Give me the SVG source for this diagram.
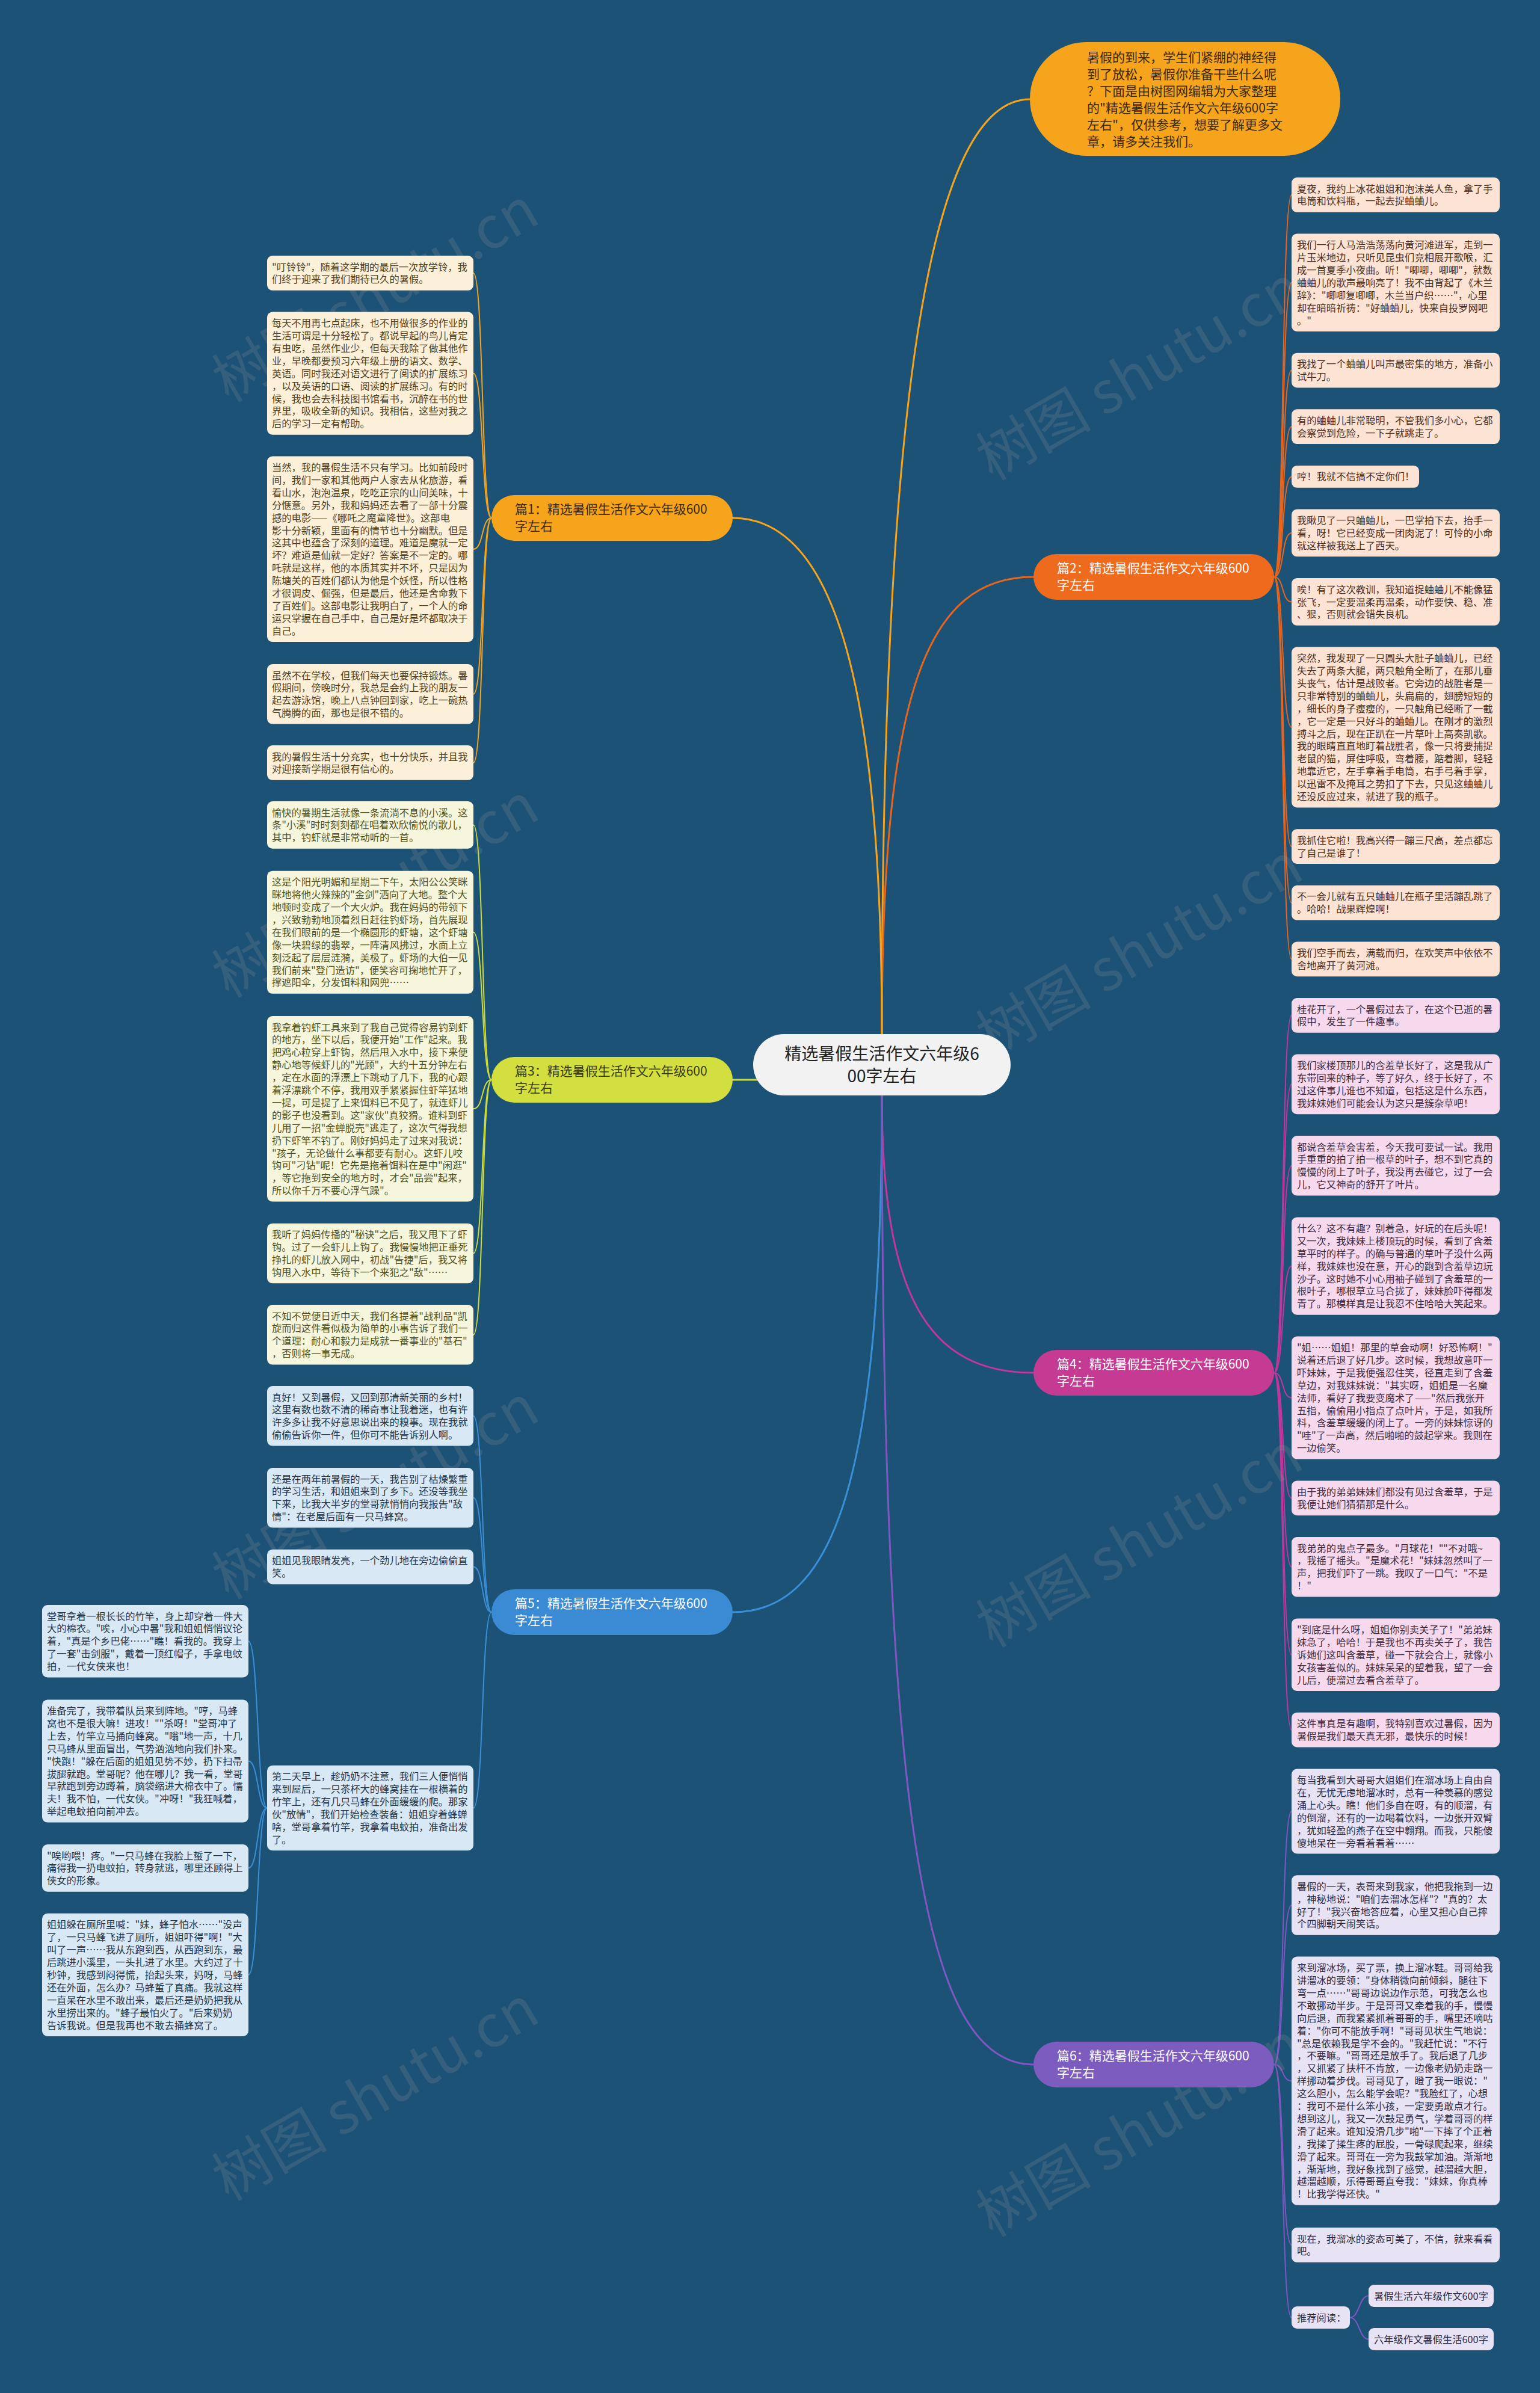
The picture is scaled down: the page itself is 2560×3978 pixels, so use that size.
<svg xmlns="http://www.w3.org/2000/svg" width="2560" height="3978" viewBox="0 0 2560 3978">
<defs>
<style>
text{font-family:"Noto Sans CJK SC","Noto Sans",sans-serif;}
.lt{font-size:16.3px;}
.pt{font-size:21px;}
.c{fill:none;stroke-linecap:round;}
.m{stroke-width:3;}
.l{stroke-width:2;}
.k1{stroke:#f6a41c}.k2{stroke:#e8651e}.k3{stroke:#cddc39}.k4{stroke:#c2379a}.k5{stroke:#3b8fd8}.k6{stroke:#7e57c2}
.f1{fill:#fdf0d9}.f2{fill:#fde3d3}.f3{fill:#f6f6dd}.f4{fill:#f6d9ec}.f5{fill:#d9e8f5}.f6{fill:#e7e3f4}
.x1{fill:#4f3f1c}.x2{fill:#4a2e1e}.x3{fill:#4f521c}.x4{fill:#3d2a3d}.x5{fill:#253545}.x6{fill:#2e2a42}
.wm{font-size:96px;fill:#9a9a9a;opacity:.2;}
</style>
</defs>
<rect width="2560" height="3978" fill="#1b5276"/>

<g id="connectors">
<path class="c m k1" d="M1466,1719 C1466,700 1540,165 1712,165"/>
<path class="c m k2" d="M1466,1719 C1466,1150 1540,959 1718,959"/>
<path class="c m k1" d="M1466,1719 C1466,1150 1390,861 1218,861"/>
<path class="c m k3" d="M1218,1795 L1259,1795"/>
<path class="c m k4" d="M1466,1821 C1466,2150 1540,2282 1718,2282"/>
<path class="c m k5" d="M1466,1821 C1466,2450 1390,2680 1218,2680"/>
<path class="c m k6" d="M1466,1821 C1466,3050 1540,3432 1718,3432"/>
<path class="c l k1" d="M817,861 C800,861 804,453.9 787,453.9"/>
<path class="c l k1" d="M817,861 C800,861 804,620.7 787,620.7"/>
<path class="c l k1" d="M817,861 C800,861 804,912.8 787,912.8"/>
<path class="c l k1" d="M817,861 C800,861 804,1153.8 787,1153.8"/>
<path class="c l k1" d="M817,861 C800,861 804,1267.9 787,1267.9"/>
<path class="c l k3" d="M817,1795 C800,1795 804,1371.4 787,1371.4"/>
<path class="c l k3" d="M817,1795 C800,1795 804,1549.8 787,1549.8"/>
<path class="c l k3" d="M817,1795 C800,1795 804,1843.3 787,1843.3"/>
<path class="c l k3" d="M817,1795 C800,1795 804,2083.5 787,2083.5"/>
<path class="c l k3" d="M817,1795 C800,1795 804,2218.8 787,2218.8"/>
<path class="c l k5" d="M817,2680 C800,2680 804,2353.8 787,2353.8"/>
<path class="c l k5" d="M817,2680 C800,2680 804,2489.8 787,2489.8"/>
<path class="c l k5" d="M817,2680 C800,2680 804,2604.6 787,2604.6"/>
<path class="c l k5" d="M817,2680 C800,2680 804,3005.5 787,3005.5"/>
<path class="c l k5" d="M444,3005.5 C427,3005.5 430,2728.3 413,2728.3"/>
<path class="c l k5" d="M444,3005.5 C427,3005.5 430,2927.6 413,2927.6"/>
<path class="c l k5" d="M444,3005.5 C427,3005.5 430,3105.4 413,3105.4"/>
<path class="c l k5" d="M444,3005.5 C427,3005.5 430,3282.9 413,3282.9"/>
<path class="c l k2" d="M2118,959 C2135,959 2130,323.9 2147,323.9"/>
<path class="c l k2" d="M2118,959 C2135,959 2130,469.8 2147,469.8"/>
<path class="c l k2" d="M2118,959 C2135,959 2130,615.6 2147,615.6"/>
<path class="c l k2" d="M2118,959 C2135,959 2130,709.2 2147,709.2"/>
<path class="c l k2" d="M2118,959 C2135,959 2130,792.4 2147,792.4"/>
<path class="c l k2" d="M2118,959 C2135,959 2130,886 2147,886"/>
<path class="c l k2" d="M2118,959 C2135,959 2130,1000.5 2147,1000.5"/>
<path class="c l k2" d="M2118,959 C2135,959 2130,1209 2147,1209"/>
<path class="c l k2" d="M2118,959 C2135,959 2130,1407.1 2147,1407.1"/>
<path class="c l k2" d="M2118,959 C2135,959 2130,1500.7 2147,1500.7"/>
<path class="c l k2" d="M2118,959 C2135,959 2130,1594.3 2147,1594.3"/>
<path class="c l k4" d="M2118,2282 C2135,2282 2130,1687.9 2147,1687.9"/>
<path class="c l k4" d="M2118,2282 C2135,2282 2130,1802.4 2147,1802.4"/>
<path class="c l k4" d="M2118,2282 C2135,2282 2130,1937.8 2147,1937.8"/>
<path class="c l k4" d="M2118,2282 C2135,2282 2130,2104.6 2147,2104.6"/>
<path class="c l k4" d="M2118,2282 C2135,2282 2130,2323.6 2147,2323.6"/>
<path class="c l k4" d="M2118,2282 C2135,2282 2130,2490.3 2147,2490.3"/>
<path class="c l k4" d="M2118,2282 C2135,2282 2130,2604.8 2147,2604.8"/>
<path class="c l k4" d="M2118,2282 C2135,2282 2130,2750.7 2147,2750.7"/>
<path class="c l k4" d="M2118,2282 C2135,2282 2130,2875.6 2147,2875.6"/>
<path class="c l k6" d="M2118,3432 C2135,3432 2130,3011 2147,3011"/>
<path class="c l k6" d="M2118,3432 C2135,3432 2130,3167 2147,3167"/>
<path class="c l k6" d="M2118,3432 C2135,3432 2130,3459.2 2147,3459.2"/>
<path class="c l k6" d="M2118,3432 C2135,3432 2130,3731.9 2147,3731.9"/>
<path class="c l k6" d="M2118,3432 C2135,3432 2130,3852.5 2147,3852.5"/>
<path class="c l k6" d="M2244,3852.5 C2260,3852.5 2259,3816.5 2275,3816.5"/>
<path class="c l k6" d="M2244,3852.5 C2260,3852.5 2259,3888.5 2275,3888.5"/>
</g>

<g id="watermarks">
<text class="wm" x="380" y="670" transform="rotate(-30 380 670)">树图 shutu.cn</text>
<text class="wm" x="380" y="1660" transform="rotate(-30 380 1660)">树图 shutu.cn</text>
<text class="wm" x="380" y="2660" transform="rotate(-30 380 2660)">树图 shutu.cn</text>
<text class="wm" x="380" y="3660" transform="rotate(-30 380 3660)">树图 shutu.cn</text>
<text class="wm" x="1650" y="800" transform="rotate(-30 1650 800)">树图 shutu.cn</text>
<text class="wm" x="1650" y="1760" transform="rotate(-30 1650 1760)">树图 shutu.cn</text>
<text class="wm" x="1650" y="2740" transform="rotate(-30 1650 2740)">树图 shutu.cn</text>
<text class="wm" x="1650" y="3720" transform="rotate(-30 1650 3720)">树图 shutu.cn</text>
</g>

<g id="root">
<rect x="1252" y="1719" width="428" height="102" rx="51" fill="#f2f2f2"/>
<text x="1466" y="1762" font-size="28" fill="#222" text-anchor="middle">精选暑假生活作文六年级6</text>
<text x="1466" y="1799" font-size="28" fill="#222" text-anchor="middle">00字左右</text>
</g>

<g id="intro">
<rect x="1712" y="70" width="516" height="189" rx="94" fill="#f6a41c"/>
<text font-size="21" fill="#3a2a10">
<tspan x="1807" y="103">暑假的到来，学生们紧绷的神经得</tspan>
<tspan x="1807" y="131">到了放松，暑假你准备干些什么呢</tspan>
<tspan x="1807" y="159">？下面是由树图网编辑为大家整理</tspan>
<tspan x="1807" y="187">的"精选暑假生活作文六年级600字</tspan>
<tspan x="1807" y="215">左右"，仅供参考，想要了解更多文</tspan>
<tspan x="1807" y="243">章，请多关注我们。</tspan>
</text>
</g>

<g id="p1">
<rect x="817" y="823" width="401" height="76" rx="38" fill="#f6a41c"/>
<text class="pt" fill="#3a2a10"><tspan x="856" y="854">篇1：精选暑假生活作文六年级600</tspan><tspan x="856" y="882">字左右</tspan></text>
</g>
<g id="p2">
<rect x="1718" y="921" width="400" height="76" rx="38" fill="#ee6a1c"/>
<text class="pt" fill="#fff"><tspan x="1757" y="952">篇2：精选暑假生活作文六年级600</tspan><tspan x="1757" y="980">字左右</tspan></text>
</g>
<g id="p3">
<rect x="817" y="1757" width="401" height="76" rx="38" fill="#d2df3f"/>
<text class="pt" fill="#3a3a10"><tspan x="856" y="1788">篇3：精选暑假生活作文六年级600</tspan><tspan x="856" y="1816">字左右</tspan></text>
</g>
<g id="p4">
<rect x="1718" y="2244" width="400" height="76" rx="38" fill="#c53b93"/>
<text class="pt" fill="#fff"><tspan x="1757" y="2275">篇4：精选暑假生活作文六年级600</tspan><tspan x="1757" y="2303">字左右</tspan></text>
</g>
<g id="p5">
<rect x="817" y="2642" width="401" height="76" rx="38" fill="#3a8bd4"/>
<text class="pt" fill="#fff"><tspan x="856" y="2673">篇5：精选暑假生活作文六年级600</tspan><tspan x="856" y="2701">字左右</tspan></text>
</g>
<g id="p6">
<rect x="1718" y="3394" width="400" height="76" rx="38" fill="#7d5cbf"/>
<text class="pt" fill="#fff"><tspan x="1757" y="3425">篇6：精选暑假生活作文六年级600</tspan><tspan x="1757" y="3453">字左右</tspan></text>
</g>

<g id="n1a"><rect class="f1" x="444" y="425" width="343" height="57.8" rx="9"/>
<text class="lt x1"><tspan x="452" y="449.5">"叮铃铃"，随着这学期的最后一次放学铃，我</tspan><tspan x="452" y="470.4">们终于迎来了我们期待已久的暑假。</tspan></text></g>
<g id="n1b"><rect class="f1" x="444" y="518.6" width="343" height="204.1" rx="9"/>
<text class="lt x1"><tspan x="452" y="543.1">每天不用再七点起床，也不用做很多的作业的</tspan><tspan x="452" y="564">生活可谓是十分轻松了。都说早起的鸟儿肯定</tspan><tspan x="452" y="584.9">有虫吃，虽然作业少，但每天我除了做其他作</tspan><tspan x="452" y="605.8">业，早晚都要预习六年级上册的语文、数学、</tspan><tspan x="452" y="626.7">英语。同时我还对语文进行了阅读的扩展练习</tspan><tspan x="452" y="647.6">，以及英语的口语、阅读的扩展练习。有的时</tspan><tspan x="452" y="668.5">候，我也会去科技图书馆看书，沉醉在书的世</tspan><tspan x="452" y="689.4">界里，吸收全新的知识。我相信，这些对我之</tspan><tspan x="452" y="710.3">后的学习一定有帮助。</tspan></text></g>
<g id="n1c"><rect class="f1" x="444" y="758.5" width="343" height="308.6" rx="9"/>
<text class="lt x1"><tspan x="452" y="783">当然，我的暑假生活不只有学习。比如前段时</tspan><tspan x="452" y="803.9">间，我们一家和其他两户人家去从化旅游，看</tspan><tspan x="452" y="824.8">看山水，泡泡温泉，吃吃正宗的山间美味，十</tspan><tspan x="452" y="845.7">分惬意。另外，我和妈妈还去看了一部十分震</tspan><tspan x="452" y="866.6">撼的电影——《哪吒之魔童降世》。这部电</tspan><tspan x="452" y="887.5">影十分新颖，里面有的情节也十分幽默。但是</tspan><tspan x="452" y="908.4">这其中也蕴含了深刻的道理。难道是魔就一定</tspan><tspan x="452" y="929.3">坏？难道是仙就一定好？答案是不一定的。哪</tspan><tspan x="452" y="950.2">吒就是这样，他的本质其实并不坏，只是因为</tspan><tspan x="452" y="971.1">陈塘关的百姓们都认为他是个妖怪，所以性格</tspan><tspan x="452" y="992">才很调皮、倔强，但是最后，他还是舍命救下</tspan><tspan x="452" y="1012.9">了百姓们。这部电影让我明白了，一个人的命</tspan><tspan x="452" y="1033.8">运只掌握在自己手中，自己是好是坏都取决于</tspan><tspan x="452" y="1054.7">自己。</tspan></text></g>
<g id="n1d"><rect class="f1" x="444" y="1104" width="343" height="99.6" rx="9"/>
<text class="lt x1"><tspan x="452" y="1128.5">虽然不在学校，但我们每天也要保持锻炼。暑</tspan><tspan x="452" y="1149.4">假期间，傍晚时分，我总是会约上我的朋友一</tspan><tspan x="452" y="1170.3">起去游泳馆，晚上八点钟回到家，吃上一碗热</tspan><tspan x="452" y="1191.2">气腾腾的面，那也是很不错的。</tspan></text></g>
<g id="n1e"><rect class="f1" x="444" y="1239" width="343" height="57.8" rx="9"/>
<text class="lt x1"><tspan x="452" y="1263.5">我的暑假生活十分充实，也十分快乐，并且我</tspan><tspan x="452" y="1284.4">对迎接新学期是很有信心的。</tspan></text></g>

<g id="n3a"><rect class="f3" x="444" y="1332" width="343" height="78.7" rx="9"/>
<text class="lt x3"><tspan x="452" y="1356.5">愉快的暑期生活就像一条流淌不息的小溪。这</tspan><tspan x="452" y="1377.4">条"小溪"时时刻刻都在唱着欢欣愉悦的歌儿，</tspan><tspan x="452" y="1398.3">其中，钓虾就是非常动听的一首。</tspan></text></g>
<g id="n3b"><rect class="f3" x="444" y="1447.7" width="343" height="204.1" rx="9"/>
<text class="lt x3"><tspan x="452" y="1472.2">这是个阳光明媚和星期二下午，太阳公公笑眯</tspan><tspan x="452" y="1493.1">眯地将他火辣辣的"金剑"洒向了大地。整个大</tspan><tspan x="452" y="1514">地顿时变成了一个大火炉。我在妈妈的带领下</tspan><tspan x="452" y="1534.9">，兴致勃勃地顶着烈日赶往钓虾场，首先展现</tspan><tspan x="452" y="1555.8">在我们眼前的是一个椭圆形的虾塘，这个虾塘</tspan><tspan x="452" y="1576.7">像一块碧绿的翡翠，一阵清风拂过，水面上立</tspan><tspan x="452" y="1597.6">刻泛起了层层涟漪，美极了。虾场的大伯一见</tspan><tspan x="452" y="1618.5">我们前来"登门造访"，便笑容可掬地忙开了，</tspan><tspan x="452" y="1639.4">撑遮阳伞，分发饵料和网兜……</tspan></text></g>
<g id="n3c"><rect class="f3" x="444" y="1689" width="343" height="308.6" rx="9"/>
<text class="lt x3"><tspan x="452" y="1713.5">我拿着钓虾工具来到了我自己觉得容易钓到虾</tspan><tspan x="452" y="1734.4">的地方，坐下以后，我便开始"工作"起来。我</tspan><tspan x="452" y="1755.3">把鸡心粒穿上虾钩，然后甩入水中，接下来便</tspan><tspan x="452" y="1776.2">静心地等候虾儿的"光顾"，大约十五分钟左右</tspan><tspan x="452" y="1797.1">，定在水面的浮漂上下跳动了几下，我的心跟</tspan><tspan x="452" y="1818">着浮漂跳个不停，我用双手紧紧握住虾竿猛地</tspan><tspan x="452" y="1838.9">一提，可是提了上来饵料已不见了，就连虾儿</tspan><tspan x="452" y="1859.8">的影子也没看到。这"家伙"真狡猾。谁料到虾</tspan><tspan x="452" y="1880.7">儿用了一招"金蝉脱壳"逃走了，这次气得我想</tspan><tspan x="452" y="1901.6">扔下虾竿不钓了。刚好妈妈走了过来对我说：</tspan><tspan x="452" y="1922.5">"孩子，无论做什么事都要有耐心。这虾儿咬</tspan><tspan x="452" y="1943.4">钩可"刁钻"呢！它先是拖着饵料在是中"闲逛"</tspan><tspan x="452" y="1964.3">，等它拖到安全的地方时，才会"品尝"起来，</tspan><tspan x="452" y="1985.2">所以你千万不要心浮气躁"。</tspan></text></g>
<g id="n3d"><rect class="f3" x="444" y="2033.7" width="343" height="99.6" rx="9"/>
<text class="lt x3"><tspan x="452" y="2058.2">我听了妈妈传播的"秘诀"之后，我又甩下了虾</tspan><tspan x="452" y="2079.1">钩。过了一会虾儿上钩了。我慢慢地把正垂死</tspan><tspan x="452" y="2100">挣扎的虾儿放入网中，初战"告捷"后，我又将</tspan><tspan x="452" y="2120.9">钩甩入水中，等待下一个来犯之"敌"……</tspan></text></g>
<g id="n3e"><rect class="f3" x="444" y="2169" width="343" height="99.6" rx="9"/>
<text class="lt x3"><tspan x="452" y="2193.5">不知不觉便日近中天，我们各提着"战利品"凯</tspan><tspan x="452" y="2214.4">旋而归这件看似极为简单的小事告诉了我们一</tspan><tspan x="452" y="2235.3">个道理：耐心和毅力是成就一番事业的"基石"</tspan><tspan x="452" y="2256.2">，否则将一事无成。</tspan></text></g>

<g id="n5a"><rect class="f5" x="444" y="2304" width="343" height="99.6" rx="9"/>
<text class="lt x5"><tspan x="452" y="2328.5">真好！又到暑假，又回到那清新美丽的乡村！</tspan><tspan x="452" y="2349.4">这里有数也数不清的稀奇事让我着迷，也有许</tspan><tspan x="452" y="2370.3">许多多让我不好意思说出来的糗事。现在我就</tspan><tspan x="452" y="2391.2">偷偷告诉你一件，但你可不能告诉别人啊。</tspan></text></g>
<g id="n5b"><rect class="f5" x="444" y="2440" width="343" height="99.6" rx="9"/>
<text class="lt x5"><tspan x="452" y="2464.5">还是在两年前暑假的一天，我告别了枯燥繁重</tspan><tspan x="452" y="2485.4">的学习生活，和姐姐来到了乡下。还没等我坐</tspan><tspan x="452" y="2506.3">下来，比我大半岁的堂哥就悄悄向我报告"敌</tspan><tspan x="452" y="2527.2">情"：在老屋后面有一只马蜂窝。</tspan></text></g>
<g id="n5c"><rect class="f5" x="444" y="2575.7" width="343" height="57.8" rx="9"/>
<text class="lt x5"><tspan x="452" y="2600.2">姐姐见我眼睛发亮，一个劲儿地在旁边偷偷直</tspan><tspan x="452" y="2621.1">笑。</tspan></text></g>
<g id="n5d"><rect class="f5" x="444" y="2934.8" width="343" height="141.4" rx="9"/>
<text class="lt x5"><tspan x="452" y="2959.3">第二天早上，趁奶奶不注意，我们三人便悄悄</tspan><tspan x="452" y="2980.2">来到屋后，一只茶杯大的蜂窝挂在一根横着的</tspan><tspan x="452" y="3001.1">竹竿上，还有几只马蜂在外面缓缓的爬。那家</tspan><tspan x="452" y="3022">伙"放情"，我们开始检查装备：姐姐穿着蜂蝉</tspan><tspan x="452" y="3042.9">啥，堂哥拿着竹竿，我拿着电蚊拍，准备出发</tspan><tspan x="452" y="3063.8">了。</tspan></text></g>
<g id="n5d1"><rect class="f5" x="70" y="2668" width="343" height="120.5" rx="9"/>
<text class="lt x5"><tspan x="78" y="2692.5">堂哥拿着一根长长的竹竿，身上却穿着一件大</tspan><tspan x="78" y="2713.4">大的棉衣。"唉，小心中暑"我和姐姐悄悄议论</tspan><tspan x="78" y="2734.3">着，"真是个乡巴佬……"瞧！看我的。我穿上</tspan><tspan x="78" y="2755.2">了一套"击剑服"，戴着一顶红帽子，手拿电蚊</tspan><tspan x="78" y="2776.1">拍，一代女侠来也！</tspan></text></g>
<g id="n5d2"><rect class="f5" x="70" y="2825.5" width="343" height="204.1" rx="9"/>
<text class="lt x5"><tspan x="78" y="2850">准备完了，我带着队员来到阵地。"哼，马蜂</tspan><tspan x="78" y="2870.9">窝也不是很大嘛！进攻！""杀呀！"堂哥冲了</tspan><tspan x="78" y="2891.8">上去，竹竿立马捅向蜂窝。"嗡"地一声，十几</tspan><tspan x="78" y="2912.7">只马蜂从里面冒出，气势汹汹地向我们扑来。</tspan><tspan x="78" y="2933.6">"快跑！"躲在后面的姐姐见势不妙，扔下扫帚</tspan><tspan x="78" y="2954.5">拔腿就跑。堂哥呢？他在哪儿？我一看，堂哥</tspan><tspan x="78" y="2975.4">早就跑到旁边蹲着，脑袋缩进大棉衣中了。懦</tspan><tspan x="78" y="2996.3">夫！我不怕，一代女侠。"冲呀！"我狂喊着，</tspan><tspan x="78" y="3017.2">举起电蚊拍向前冲去。</tspan></text></g>
<g id="n5d3"><rect class="f5" x="70" y="3066" width="343" height="78.7" rx="9"/>
<text class="lt x5"><tspan x="78" y="3090.5">"唉哟喂！疼。"一只马蜂在我脸上蜇了一下，</tspan><tspan x="78" y="3111.4">痛得我一扔电蚊拍，转身就逃，哪里还顾得上</tspan><tspan x="78" y="3132.3">侠女的形象。</tspan></text></g>
<g id="n5d4"><rect class="f5" x="70" y="3180.8" width="343" height="204.1" rx="9"/>
<text class="lt x5"><tspan x="78" y="3205.3">姐姐躲在厕所里喊："妹，蜂子怕水……"没声</tspan><tspan x="78" y="3226.2">了，一只马蜂飞进了厕所，姐姐吓得"啊！"大</tspan><tspan x="78" y="3247.1">叫了一声……我从东跑到西，从西跑到东，最</tspan><tspan x="78" y="3268">后跳进小溪里，一头扎进了水里。大约过了十</tspan><tspan x="78" y="3288.9">秒钟，我感到闷得慌，抬起头来，妈呀，马蜂</tspan><tspan x="78" y="3309.8">还在外面，怎么办？马蜂蜇了真痛。我就这样</tspan><tspan x="78" y="3330.7">一直呆在水里不敢出来，最后还是奶奶把我从</tspan><tspan x="78" y="3351.6">水里捞出来的。"蜂子最怕火了。"后来奶奶</tspan><tspan x="78" y="3372.5">告诉我说。但是我再也不敢去捅蜂窝了。</tspan></text></g>

<g id="n2a"><rect class="f2" x="2147" y="295" width="346" height="57.8" rx="9"/>
<text class="lt x2"><tspan x="2156" y="319.5">夏夜，我约上冰花姐姐和泡沫美人鱼，拿了手</tspan><tspan x="2156" y="340.4">电筒和饮料瓶，一起去捉蛐蛐儿。</tspan></text></g>
<g id="n2b"><rect class="f2" x="2147" y="388.6" width="346" height="162.3" rx="9"/>
<text class="lt x2"><tspan x="2156" y="413.1">我们一行人马浩浩荡荡向黄河滩进军，走到一</tspan><tspan x="2156" y="434">片玉米地边，只听见昆虫们竞相展开歌喉，汇</tspan><tspan x="2156" y="454.9">成一首夏季小夜曲。听！"唧唧，唧唧"，就数</tspan><tspan x="2156" y="475.8">蛐蛐儿的歌声最响亮了！我不由背起了《木兰</tspan><tspan x="2156" y="496.7">辞》："唧唧复唧唧，木兰当户织……"，心里</tspan><tspan x="2156" y="517.6">却在暗暗祈祷："好蛐蛐儿，快来自投罗网吧</tspan><tspan x="2156" y="538.5">。"</tspan></text></g>
<g id="n2c"><rect class="f2" x="2147" y="586.7" width="346" height="57.8" rx="9"/>
<text class="lt x2"><tspan x="2156" y="611.2">我找了一个蛐蛐儿叫声最密集的地方，准备小</tspan><tspan x="2156" y="632.1">试牛刀。</tspan></text></g>
<g id="n2d"><rect class="f2" x="2147" y="680.3" width="346" height="57.8" rx="9"/>
<text class="lt x2"><tspan x="2156" y="704.8">有的蛐蛐儿非常聪明，不管我们多小心，它都</tspan><tspan x="2156" y="725.7">会察觉到危险，一下子就跳走了。</tspan></text></g>
<g id="n2e"><rect class="f2" x="2147" y="773.9" width="212" height="36.9" rx="9"/>
<text class="lt x2"><tspan x="2156" y="798.4">哼！我就不信搞不定你们！</tspan></text></g>
<g id="n2f"><rect class="f2" x="2147" y="846.6" width="346" height="78.7" rx="9"/>
<text class="lt x2"><tspan x="2156" y="871.1">我瞅见了一只蛐蛐儿，一巴掌拍下去，抬手一</tspan><tspan x="2156" y="892">看，呀！它已经变成一团肉泥了！可怜的小命</tspan><tspan x="2156" y="912.9">就这样被我送上了西天。</tspan></text></g>
<g id="n2g"><rect class="f2" x="2147" y="961.1" width="346" height="78.7" rx="9"/>
<text class="lt x2"><tspan x="2156" y="985.6">唉！有了这次教训，我知道捉蛐蛐儿不能像猛</tspan><tspan x="2156" y="1006.5">张飞，一定要温柔再温柔，动作要快、稳、准</tspan><tspan x="2156" y="1027.4">、狠，否则就会错失良机。</tspan></text></g>
<g id="n2h"><rect class="f2" x="2147" y="1075.6" width="346" height="266.8" rx="9"/>
<text class="lt x2"><tspan x="2156" y="1100.1">突然，我发现了一只圆头大肚子蛐蛐儿，已经</tspan><tspan x="2156" y="1121">失去了两条大腿，两只触角全断了，在那儿垂</tspan><tspan x="2156" y="1141.9">头丧气，估计是战败者。它旁边的战胜者是一</tspan><tspan x="2156" y="1162.8">只非常特别的蛐蛐儿，头扁扁的，翅膀短短的</tspan><tspan x="2156" y="1183.7">，细长的身子瘦瘦的，一只触角已经断了一截</tspan><tspan x="2156" y="1204.6">，它一定是一只好斗的蛐蛐儿。在刚才的激烈</tspan><tspan x="2156" y="1225.5">搏斗之后，现在正趴在一片草叶上高奏凯歌。</tspan><tspan x="2156" y="1246.4">我的眼睛直直地盯着战胜者，像一只将要捕捉</tspan><tspan x="2156" y="1267.3">老鼠的猫，屏住呼吸，弯着腰，踮着脚，轻轻</tspan><tspan x="2156" y="1288.2">地靠近它，左手拿着手电筒，右手弓着手掌，</tspan><tspan x="2156" y="1309.1">以迅雷不及掩耳之势扣了下去，只见这蛐蛐儿</tspan><tspan x="2156" y="1330">还没反应过来，就进了我的瓶子。</tspan></text></g>
<g id="n2i"><rect class="f2" x="2147" y="1378.2" width="346" height="57.8" rx="9"/>
<text class="lt x2"><tspan x="2156" y="1402.7">我抓住它啦！我高兴得一蹦三尺高，差点都忘</tspan><tspan x="2156" y="1423.6">了自己是谁了！</tspan></text></g>
<g id="n2j"><rect class="f2" x="2147" y="1471.8" width="346" height="57.8" rx="9"/>
<text class="lt x2"><tspan x="2156" y="1496.3">不一会儿就有五只蛐蛐儿在瓶子里活蹦乱跳了</tspan><tspan x="2156" y="1517.2">。哈哈！战果辉煌啊！</tspan></text></g>
<g id="n2k"><rect class="f2" x="2147" y="1565.4" width="346" height="57.8" rx="9"/>
<text class="lt x2"><tspan x="2156" y="1589.9">我们空手而去，满载而归，在欢笑声中依依不</tspan><tspan x="2156" y="1610.8">舍地离开了黄河滩。</tspan></text></g>

<g id="n4a"><rect class="f4" x="2147" y="1659" width="346" height="57.8" rx="9"/>
<text class="lt x4"><tspan x="2156" y="1683.5">桂花开了，一个暑假过去了，在这个已逝的暑</tspan><tspan x="2156" y="1704.4">假中，发生了一件趣事。</tspan></text></g>
<g id="n4b"><rect class="f4" x="2147" y="1752.6" width="346" height="99.6" rx="9"/>
<text class="lt x4"><tspan x="2156" y="1777.1">我们家楼顶那儿的含羞草长好了，这是我从广</tspan><tspan x="2156" y="1798">东带回来的种子，等了好久，终于长好了，不</tspan><tspan x="2156" y="1818.9">过这件事儿谁也不知道，包括这是什么东西，</tspan><tspan x="2156" y="1839.8">我妹妹她们可能会认为这只是簇杂草吧！</tspan></text></g>
<g id="n4c"><rect class="f4" x="2147" y="1888" width="346" height="99.6" rx="9"/>
<text class="lt x4"><tspan x="2156" y="1912.5">都说含羞草会害羞，今天我可要试一试。我用</tspan><tspan x="2156" y="1933.4">手重重的拍了拍一根草的叶子，想不到它真的</tspan><tspan x="2156" y="1954.3">慢慢的闭上了叶子，我没再去碰它，过了一会</tspan><tspan x="2156" y="1975.2">儿，它又神奇的舒开了叶片。</tspan></text></g>
<g id="n4d"><rect class="f4" x="2147" y="2023.4" width="346" height="162.3" rx="9"/>
<text class="lt x4"><tspan x="2156" y="2047.9">什么？这不有趣？别着急，好玩的在后头呢！</tspan><tspan x="2156" y="2068.8">又一次，我妹妹上楼顶玩的时候，看到了含羞</tspan><tspan x="2156" y="2089.7">草平时的样子。的确与普通的草叶子没什么两</tspan><tspan x="2156" y="2110.6">样，我妹妹也没在意，开心的跑到含羞草边玩</tspan><tspan x="2156" y="2131.5">沙子。这时她不小心用袖子碰到了含羞草的一</tspan><tspan x="2156" y="2152.4">根叶子，哪根草立马合拢了，妹妹脸吓得都发</tspan><tspan x="2156" y="2173.3">青了。那模样真是让我忍不住哈哈大笑起来。</tspan></text></g>
<g id="n4e"><rect class="f4" x="2147" y="2221.5" width="346" height="204.1" rx="9"/>
<text class="lt x4"><tspan x="2156" y="2246">"姐……姐姐！那里的草会动啊！好恐怖啊！"</tspan><tspan x="2156" y="2266.9">说着还后退了好几步。这时候，我想故意吓一</tspan><tspan x="2156" y="2287.8">吓妹妹，于是我便强忍住笑，径直走到了含羞</tspan><tspan x="2156" y="2308.7">草边，对我妹妹说："其实呀，姐姐是一名魔</tspan><tspan x="2156" y="2329.6">法师，看好了我要变魔术了——"然后我张开</tspan><tspan x="2156" y="2350.5">五指，偷偷用小指点了点叶片，于是，如我所</tspan><tspan x="2156" y="2371.4">料，含羞草缓缓的闭上了。一旁的妹妹惊讶的</tspan><tspan x="2156" y="2392.3">"哇"了一声高，然后啪啪的鼓起掌来。我则在</tspan><tspan x="2156" y="2413.2">一边偷笑。</tspan></text></g>
<g id="n4f"><rect class="f4" x="2147" y="2461.4" width="346" height="57.8" rx="9"/>
<text class="lt x4"><tspan x="2156" y="2485.9">由于我的弟弟妹妹们都没有见过含羞草，于是</tspan><tspan x="2156" y="2506.8">我便让她们猜猜那是什么。</tspan></text></g>
<g id="n4g"><rect class="f4" x="2147" y="2555" width="346" height="99.6" rx="9"/>
<text class="lt x4"><tspan x="2156" y="2579.5">我弟弟的鬼点子最多。"月球花！""不对哦~</tspan><tspan x="2156" y="2600.4">，我摇了摇头。"是魔术花！"妹妹忽然叫了一</tspan><tspan x="2156" y="2621.3">声，把我们吓了一跳。我叹了一口气："不是</tspan><tspan x="2156" y="2642.2">！"</tspan></text></g>
<g id="n4h"><rect class="f4" x="2147" y="2690.4" width="346" height="120.5" rx="9"/>
<text class="lt x4"><tspan x="2156" y="2714.9">"到底是什么呀，姐姐你别卖关子了！"弟弟妹</tspan><tspan x="2156" y="2735.8">妹急了，哈哈！于是我也不再卖关子了，我告</tspan><tspan x="2156" y="2756.7">诉她们这叫含羞草，碰一下就会合上，就像小</tspan><tspan x="2156" y="2777.6">女孩害羞似的。妹妹呆呆的望着我，望了一会</tspan><tspan x="2156" y="2798.5">儿后，便溜过去看含羞草了。</tspan></text></g>
<g id="n4i"><rect class="f4" x="2147" y="2846.7" width="346" height="57.8" rx="9"/>
<text class="lt x4"><tspan x="2156" y="2871.2">这件事真是有趣啊，我特别喜欢过暑假，因为</tspan><tspan x="2156" y="2892.1">暑假是我们最天真无邪，最快乐的时候！</tspan></text></g>

<g id="n6a"><rect class="f6" x="2147" y="2940.6" width="346" height="140.8" rx="9"/>
<text class="lt x6"><tspan x="2156" y="2965.1">每当我看到大哥哥大姐姐们在溜冰场上自由自</tspan><tspan x="2156" y="2986">在，无忧无虑地溜冰时，总有一种羡慕的感觉</tspan><tspan x="2156" y="3006.9">涌上心头。瞧！他们多自在呀，有的顺溜，有</tspan><tspan x="2156" y="3027.8">的倒溜，还有的一边喝着饮料，一边张开双臂</tspan><tspan x="2156" y="3048.7">，犹如轻盈的燕子在空中翱翔。而我，只能傻</tspan><tspan x="2156" y="3069.6">傻地呆在一旁看着看着……</tspan></text></g>
<g id="n6b"><rect class="f6" x="2147" y="3117.2" width="346" height="99.6" rx="9"/>
<text class="lt x6"><tspan x="2156" y="3141.7">暑假的一天，表哥来到我家，他把我拖到一边</tspan><tspan x="2156" y="3162.6">，神秘地说："咱们去溜冰怎样"？"真的？太</tspan><tspan x="2156" y="3183.5">好了！"我兴奋地答应着，心里又担心自己摔</tspan><tspan x="2156" y="3204.4">个四脚朝天闹笑话。</tspan></text></g>
<g id="n6c"><rect class="f6" x="2147" y="3252.6" width="346" height="413.1" rx="9"/>
<text class="lt x6"><tspan x="2156" y="3277.1">来到溜冰场，买了票，换上溜冰鞋。哥哥给我</tspan><tspan x="2156" y="3298">讲溜冰的要领："身体稍微向前倾斜，腿往下</tspan><tspan x="2156" y="3318.9">弯一点……"哥哥边说边作示范，可我怎么也</tspan><tspan x="2156" y="3339.8">不敢挪动半步。于是哥哥又牵着我的手，慢慢</tspan><tspan x="2156" y="3360.7">向后退，而我紧紧抓着哥哥的手，嘴里还嘀咕</tspan><tspan x="2156" y="3381.6">着："你可不能放手啊！"哥哥见状生气地说：</tspan><tspan x="2156" y="3402.5">"总是依赖我是学不会的。"我赶忙说："不行</tspan><tspan x="2156" y="3423.4">，不要嘛。"哥哥还是放手了。我后退了几步</tspan><tspan x="2156" y="3444.3">，又抓紧了扶杆不肯放，一边像老奶奶走路一</tspan><tspan x="2156" y="3465.2">样挪动着步伐。哥哥见了，瞪了我一眼说："</tspan><tspan x="2156" y="3486.1">这么胆小，怎么能学会呢？"我脸红了，心想</tspan><tspan x="2156" y="3507">：我可不是什么笨小孩，一定要勇敢点才行。</tspan><tspan x="2156" y="3527.9">想到这儿，我又一次鼓足勇气，学着哥哥的样</tspan><tspan x="2156" y="3548.8">滑了起来。谁知没滑几步"啪"一下摔了个正着</tspan><tspan x="2156" y="3569.7">，我揉了揉生疼的屁股，一骨碌爬起来，继续</tspan><tspan x="2156" y="3590.6">滑了起来。哥哥在一旁为我鼓掌加油。渐渐地</tspan><tspan x="2156" y="3611.5">，渐渐地，我好象找到了感觉，越溜越大胆，</tspan><tspan x="2156" y="3632.4">越溜越顺，乐得哥哥直夸我："妹妹，你真棒</tspan><tspan x="2156" y="3653.3">！比我学得还快。"</tspan></text></g>
<g id="n6d"><rect class="f6" x="2147" y="3703" width="346" height="57.8" rx="9"/>
<text class="lt x6"><tspan x="2156" y="3727.5">现在，我溜冰的姿态可美了，不信，就来看看</tspan><tspan x="2156" y="3748.4">吧。</tspan></text></g>
<g id="n6e"><rect class="f6" x="2147" y="3834" width="97" height="36.9" rx="9"/>
<text class="lt x6"><tspan x="2156" y="3858.5">推荐阅读：</tspan></text></g>
<g id="n6e1"><rect class="f6" x="2275" y="3798" width="208" height="36.9" rx="9"/>
<text class="lt x6"><tspan x="2284" y="3822.5">暑假生活六年级作文600字</tspan></text></g>
<g id="n6e2"><rect class="f6" x="2275" y="3870" width="208" height="36.9" rx="9"/>
<text class="lt x6"><tspan x="2284" y="3894.5">六年级作文暑假生活600字</tspan></text></g>
</svg>
